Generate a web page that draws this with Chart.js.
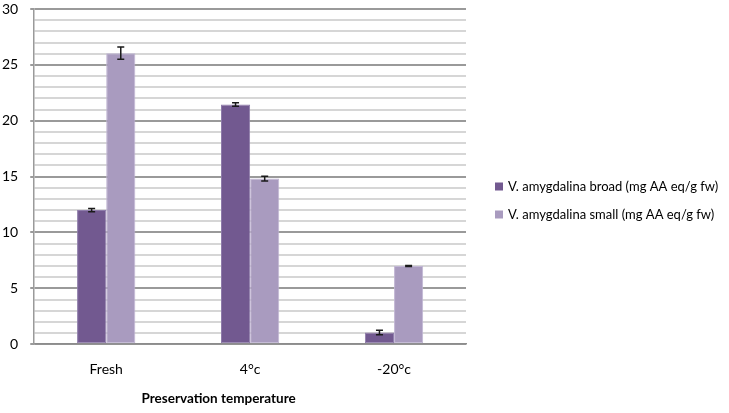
<!DOCTYPE html>
<html lang="en">
  <head>
    <meta charset="UTF-8" />
    <title>Preservation temperature</title>
    <script src="https://cdn.jsdelivr.net/npm/chart.js@4"></script>
    <style>
      body { margin: 0; background: #fff; }
    </style>
  </head>
  <body>
    <canvas id="myChart" width="729" height="413"></canvas>

    <script>
      const categories = ['Fresh', '4°c', '-20°c'];
      const broadLabel = 'V. amygdalina broad (mg AA eq/g fw)';
      const smallLabel = 'V. amygdalina small (mg AA eq/g fw)';
      const broadValues = [12.0, 21.45, 1.05];
      const broadErrors = [0.15, 0.16, 0.2];
      const smallValues = [26.05, 14.82, 7.0];
      const smallErrors = [0.55, 0.22, 0.05];
      const xTitle = 'Preservation temperature';

      Chart.defaults.font.family = 'Lato, "Open Sans", sans-serif';
      Chart.defaults.font.size = 14;
      Chart.defaults.color = '#000';

      // draws the error bars from the arrays above
      const errorBars = {
        id: 'errorBars',
        afterDatasetsDraw(chart) {
          const ctx = chart.ctx;
          const y = chart.scales.y;
          chart.data.datasets.forEach((ds, i) => {
            const meta = chart.getDatasetMeta(i);
            meta.data.forEach((bar, j) => {
              const v = ds.data[j];
              const e = ds.errors[j];
              const top = y.getPixelForValue(v + e);
              const bot = y.getPixelForValue(v - e);
              ctx.save();
              ctx.strokeStyle = '#1a1a1a';
              ctx.lineWidth = 1.5;
              ctx.beginPath();
              ctx.moveTo(bar.x, top);
              ctx.lineTo(bar.x, bot);
              ctx.moveTo(bar.x - 3.5, top);
              ctx.lineTo(bar.x + 3.5, top);
              ctx.moveTo(bar.x - 3.5, bot);
              ctx.lineTo(bar.x + 3.5, bot);
              ctx.stroke();
              ctx.restore();
            });
          });
        }
      };

      // x axis title (a bit left of centre, like the original) and the legend on the right
      const extras = {
        id: 'extras',
        afterDraw(chart) {
          const ctx = chart.ctx;
          const a = chart.chartArea;
          ctx.save();
          ctx.font = 'bold 13.5px Lato, sans-serif';
          ctx.fillStyle = '#000';
          ctx.textAlign = 'center';
          ctx.textBaseline = 'middle';
          ctx.fillText(xTitle, a.left + a.width * 0.427, a.bottom + 54);

          ctx.font = '13px Lato, sans-serif';
          ctx.textAlign = 'left';
          const sets = chart.data.datasets;
          const x0 = a.right + 29;
          const yMid = chart.height / 2 - 6;
          sets.forEach((ds, i) => {
            const yy = yMid + (i - (sets.length - 1) / 2) * 28;
            ctx.fillStyle = ds.backgroundColor;
            ctx.fillRect(x0, yy - 4, 8, 8);
            ctx.fillStyle = '#000';
            ctx.fillText(ds.label, x0 + 13, yy);
          });
          ctx.restore();
        }
      };

      const ctx = document.getElementById('myChart').getContext('2d');
      const myChart = new Chart(ctx, {
        type: 'bar',
        data: {
          labels: categories,
          datasets: [
            {
              label: broadLabel,
              data: broadValues,
              errors: broadErrors,
              backgroundColor: '#725990',
              borderColor: '#8f7dab',
              borderWidth: 1,
              borderSkipped: false
            },
            {
              label: smallLabel,
              data: smallValues,
              errors: smallErrors,
              backgroundColor: '#a99bbf',
              borderColor: '#c0b5d3',
              borderWidth: 1,
              borderSkipped: false
            }
          ]
        },
        options: {
          responsive: false,
          animation: false,
          layout: { padding: { top: 0, left: -10, right: 263, bottom: 26 } },
          datasets: { bar: { barPercentage: 1, categoryPercentage: 0.405 } },
          plugins: {
            legend: { display: false },
            tooltip: { enabled: false }
          },
          scales: {
            x: {
              grid: { display: false },
              border: { display: true, color: '#8c8c8c', width: 1.5 },
              ticks: { padding: 9, font: { size: 14 }, maxRotation: 0 }
            },
            y: {
              min: 0,
              max: 30,
              afterFit: s => { s.paddingTop = 9; },
              ticks: {
                stepSize: 1,
                autoSkip: false,
                padding: 12,
                font: { size: 14 },
                callback: v => (v % 5 === 0 ? v : '')
              },
              grid: {
                lineWidth: 2,
                tickLength: 4,
                color: c => (c.tick && c.tick.value % 5 === 0 ? '#9a9a9a' : '#d6d6d6'),
                tickColor: c => (c.tick && c.tick.value % 5 === 0 ? '#9a9a9a' : 'rgba(0,0,0,0)')
              },
              border: { color: '#9a9a9a', width: 1.5 }
            }
          }
        },
        plugins: [errorBars, extras]
      });
    </script>
  </body>
</html>
